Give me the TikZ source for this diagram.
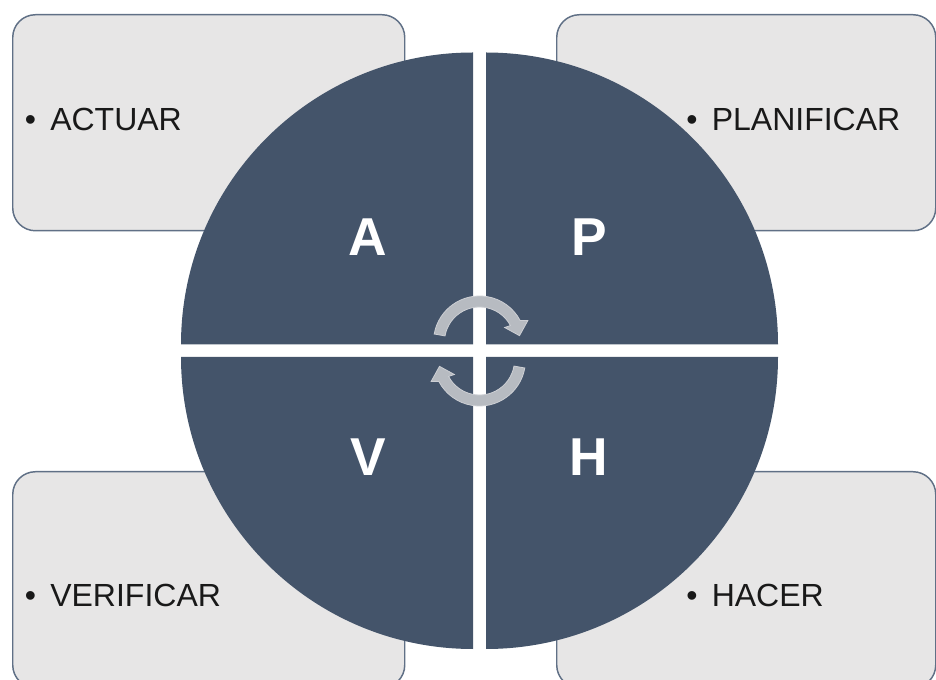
\documentclass[tikz,border=0pt]{standalone}
\usepackage{fontspec}
\setmainfont{Liberation Sans}
\usetikzlibrary{calc}

\definecolor{pdcablue}{HTML}{44546A}
\definecolor{panelfill}{HTML}{E7E6E6}
\definecolor{panelline}{RGB}{96,112,134}
\definecolor{cyclegray}{RGB}{183,187,193}

\begin{document}
\begin{tikzpicture}[
  x=0.75pt, y=0.75pt,
  panel/.style={draw=panelline, line width=1.1pt, fill=panelfill, rounded corners=17pt,
    minimum height=162pt, inner sep=0pt, anchor=north west},
  quarter/.style={fill=pdcablue},
  letter/.style={text=white, font=\bfseries\fontsize{40}{40}\selectfont, inner sep=0pt, anchor=base},
  item/.style={text=black!90, font=\fontsize{24}{24}\selectfont, inner sep=0pt, anchor=base west},
  dot/.style={text=black!90, font=\fontsize{24}{24}\selectfont, inner sep=0pt, anchor=base},
  turn/.style={fill=cyclegray, draw=cyclegray!70!white, line width=0.6pt},
]

% --- Rahmen ---
\useasboundingbox (0,0) rectangle (936,679);
\clip (0,0) rectangle (936,679);

% --- Kaesten in den Ecken ---
\node[panel, minimum width=294pt] (boxA) at (12,665) {};
\node[panel, minimum width=284.25pt] (boxP) at (556,665) {};
\node[panel, minimum width=294pt] (boxV) at (12,208) {};
\node[panel, minimum width=284.25pt] (boxH) at (556,208) {};

% --- Texte in den Kaesten ---
\node[dot] (dotA) at (30.5,548) {\textbullet};
\node[item] (txtA) at (50,548) {ACTUAR};
\node[dot] (dotP) at (692,548) {\textbullet};
\node[item] (txtP) at (711.5,548) {PLANIFICAR};
\node[dot] (dotV) at (30.5,73) {\textbullet};
\node[item] (txtV) at (50,73) {VERIFICAR};
\node[dot] (dotH) at (692,73) {\textbullet};
\node[item] (txtH) at (711.5,73) {HACER};

% --- Kreis aus vier Vierteln ---
\fill[quarter] (473,334.5) -- ++(180:292) arc[start angle=180, end angle=90, radius=292] -- cycle;
\fill[quarter] (486,334.5) -- ++(90:292) arc[start angle=90, end angle=0, radius=292] -- cycle;
\fill[quarter] (473,322) -- ++(270:292) arc[start angle=270, end angle=180, radius=292] -- cycle;
\fill[quarter] (486,322) -- ++(0:292) arc[start angle=0, end angle=-90, radius=292] -- cycle;

% --- Buchstaben ---
\node[letter] (A) at (368,423.5) {A};
\node[letter] (P) at (589,423.5) {P};
\node[letter] (V) at (368,203) {V};
\node[letter] (H) at (589,203) {H};

% --- Kreislauf-Pfeile in der Mitte ---
\foreach \cy/\rot in {337/0, 319/180} {
  \begin{scope}[shift={(479.5,\cy)}, rotate=\rot]
    \draw[turn] (170:46) arc[start angle=170, end angle=28, radius=46]
      -- (24:53) -- (9:40.5) -- (30:29) -- (28:35)
      arc[start angle=28, end angle=170, radius=35] -- cycle;
  \end{scope}
}

\end{tikzpicture}
\end{document}
